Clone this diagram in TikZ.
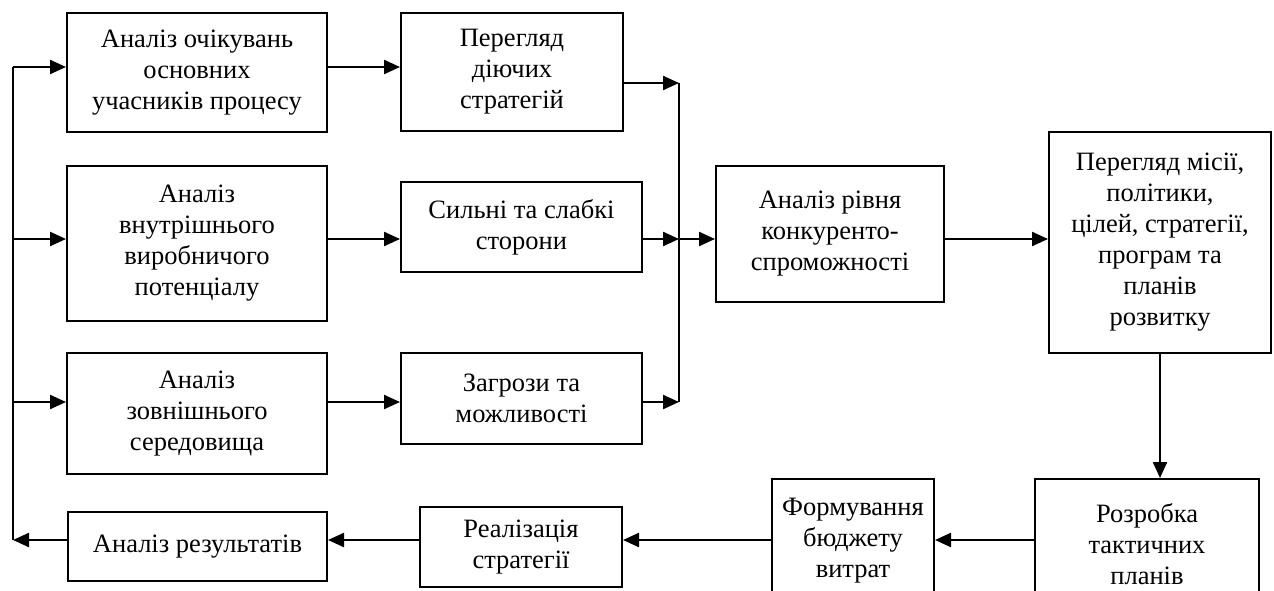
\documentclass[tikz,border=0pt]{standalone}
\usepackage{fontspec}
\setmainfont{Liberation Serif}
\usetikzlibrary{arrows.meta}
\tikzset{
  blk/.style={draw, line width=2pt, inner sep=0pt, align=center,
    font=\fontsize{26.5}{31}\selectfont},
  conn/.style={line width=2.3pt},
  arr/.style={line width=2.3pt, -{Triangle[length=16pt,width=14pt]}}
}
\begin{document}
\begin{tikzpicture}[x=1pt,y=-1pt]
\useasboundingbox (0,0) rectangle (1274,591);
% boxes
\node[blk, minimum width=260, minimum height=119] (A1) at (197,72.5) {Аналіз очікувань\\основних\\учасників процесу};
\node[blk, minimum width=222, minimum height=118] (B1) at (512,72) {Перегляд\\діючих\\стратегій};
\node[blk, minimum width=260, minimum height=155] (A2) at (197,243.5) {Аналіз\\внутрішнього\\виробничого\\потенціалу};
\node[blk, minimum width=241, minimum height=90] (B2) at (521.5,227) {Сильні та слабкі\\сторони};
\node[blk, minimum width=260, minimum height=121] (A3) at (197,413.5) {Аналіз\\зовнішнього\\середовища};
\node[blk, minimum width=241, minimum height=91] (B3) at (521.5,398.5) {Загрози та\\можливості};
\node[blk, minimum width=228, minimum height=136] (R) at (830,234) {Аналіз рівня\\конкуренто-\\спроможності};
\node[blk, minimum width=222, minimum height=221] (M) at (1160,242.5) {Перегляд місії,\\політики,\\цілей, стратегії,\\програм та\\планів\\розвитку};
\node[blk, minimum width=224, minimum height=130] (T) at (1147,544) {Розробка\\тактичних\\планів};
\node[blk, minimum width=162, minimum height=124] (F) at (853,541) {Формування\\бюджету\\витрат};
\node[blk, minimum width=202, minimum height=80] (Re) at (521,547) {Реалізація\\стратегії};
\node[blk, minimum width=259, minimum height=69] (Res) at (197.5,546.5) {Аналіз результатів};
% levels
\coordinate (y1) at (0,67);
\coordinate (yj) at (0,83);
\coordinate (y2) at (0,239);
\coordinate (y3) at (0,402);
\coordinate (yb) at (0,540);
\coordinate (Ltop) at (13,67);
\coordinate (Lbot) at (13,540);
\coordinate (J) at (679,239);
% left feedback line
\draw[conn] (Ltop) -- (Lbot);
\draw[arr] (Ltop) -- (A1.west |- Ltop);
\draw[arr] (Ltop |- y2) -- (A2.west |- y2);
\draw[arr] (Ltop |- y3) -- (A3.west |- y3);
\draw[arr] (Res.west |- yb) -- (Lbot);
% first column to second
\draw[arr] (A1.east |- y1) -- (B1.west |- y1);
\draw[arr] (A2.east |- y2) -- (B2.west |- y2);
\draw[arr] (A3.east |- y3) -- (B3.west |- y3);
% junction
\draw[arr] (B1.east |- yj) -- (J |- yj);
\draw[arr] (B2.east |- y2) -- (J);
\draw[arr] (B3.east |- y3) -- (J |- y3);
\draw[conn] (J |- yj) -- (J |- y3);
\draw[arr] (J) -- (R.west |- J);
\draw[arr] (R.east |- J) -- (M.west |- J);
\draw[arr] (M.south) -- (M.south |- T.north);
% bottom row
\draw[arr] (T.west |- yb) -- (F.east |- yb);
\draw[arr] (F.west |- yb) -- (Re.east |- yb);
\draw[arr] (Re.west |- yb) -- (Res.east |- yb);
\end{tikzpicture}
\end{document}
